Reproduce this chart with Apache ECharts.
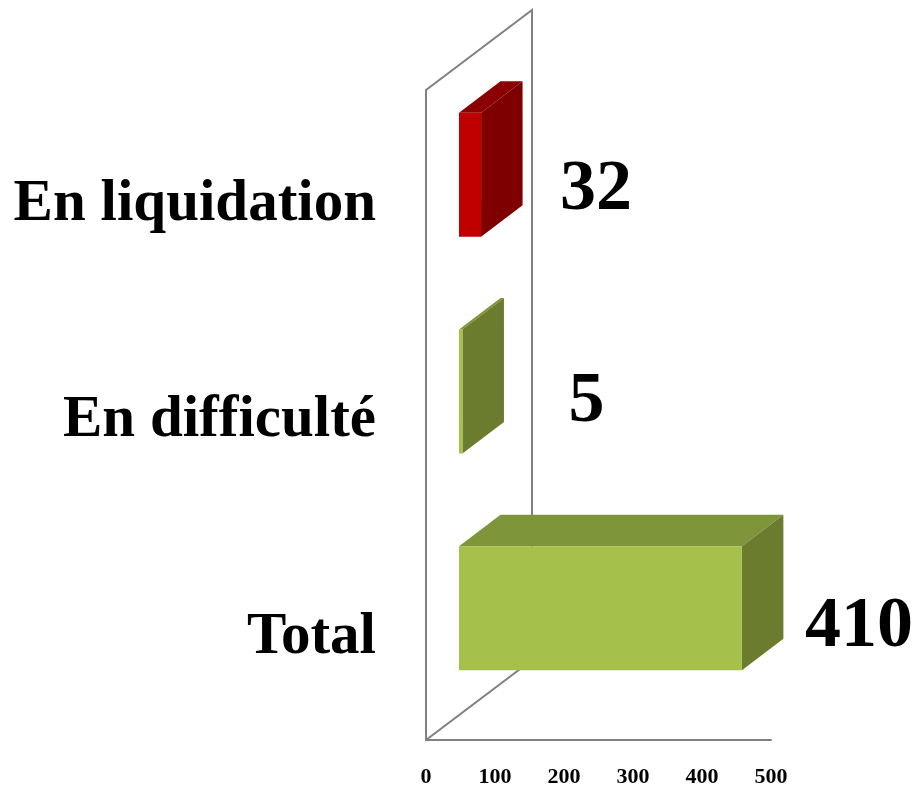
<!DOCTYPE html>
<html lang="fr">
<head>
    <meta charset="UTF-8">
    <title>Entreprises</title>
    <style>
        html, body { margin: 0; padding: 0; background: #fff; }
        #main { width: 913px; height: 787px; }
    </style>
    <script src="https://cdn.jsdelivr.net/npm/echarts@6/dist/echarts.min.js"></script>
</head>
<body>
<div id="main"></div>
<script>
    var categories = ['Total', 'En difficulté', 'En liquidation'];
    var values = [410, 5, 32];
    var xTicks = [0, 100, 200, 300, 400, 500];

    // couleurs des faces : avant, dessus, côté
    var faceColors = [
        ['#A5C14B', '#7F9539', '#6B7C2E'],
        ['#A5C14B', '#7F9539', '#6B7C2E'],
        ['#C00000', '#8B0000', '#7F0000']
    ];

    var serifBold = '"Liberation Serif", serif';
    var lineColor = '#808080';

    // perspective : décalage du mur du fond et de la barre
    var wallDx = 106, wallDy = -80;
    var barDx = 33, barDy = -23.5, barHalf = 62;
    var depthDx = 41.5, depthDy = -31.5;
    // décalage des étiquettes par rapport au bout de la barre
    var labelDx = [117, 124, 115];
    var labelDy = [19, 11, 16];

    function renderWall(params, api) {
        var c = params.coordSys;
        var x = c.x, top = c.y, bottom = c.y + c.height;
        return {
            type: 'polyline',
            silent: true,
            shape: {
                points: [
                    [x, top],
                    [x + wallDx, top + wallDy],
                    [x + wallDx, bottom + wallDy],
                    [x, bottom]
                ]
            },
            style: { fill: 'none', stroke: lineColor, lineWidth: 2 }
        };
    }

    function renderBar(params, api) {
        var i = api.value(1);
        var start = api.coord([0, i]);
        var end = api.coord([api.value(0), i]);
        var x0 = start[0] + barDx, x1 = end[0] + barDx;
        var yc = start[1] + barDy;
        var y0 = yc - barHalf, y1 = yc + barHalf;
        var col = faceColors[i];
        return {
            type: 'group',
            children: [
                {
                    type: 'polygon',
                    shape: { points: [[x0, y0], [x1, y0], [x1 + depthDx, y0 + depthDy], [x0 + depthDx, y0 + depthDy]] },
                    style: { fill: col[1] }
                },
                {
                    type: 'polygon',
                    shape: { points: [[x1, y0], [x1 + depthDx, y0 + depthDy], [x1 + depthDx, y1 + depthDy], [x1, y1]] },
                    style: { fill: col[2] }
                },
                {
                    type: 'rect',
                    shape: { x: x0, y: y0, width: x1 - x0, height: y1 - y0 },
                    style: { fill: col[0] }
                },
                {
                    type: 'text',
                    style: {
                        x: x1 + labelDx[i],
                        y: yc + labelDy[i],
                        text: String(api.value(0)),
                        align: 'center',
                        verticalAlign: 'middle',
                        fill: '#000',
                        font: 'bold 72px ' + serifBold
                    }
                }
            ]
        };
    }

    var myChart = echarts.init(document.getElementById('main'));
    myChart.setOption({
        animation: false,
        backgroundColor: '#fff',
        grid: { left: 426, top: 90, width: 345, height: 650, outerBoundsMode: 'none' },
        xAxis: {
            type: 'value',
            min: xTicks[0],
            max: xTicks[xTicks.length - 1],
            interval: xTicks[1] - xTicks[0],
            splitLine: { show: false },
            axisTick: { show: false },
            axisLine: { show: true, lineStyle: { color: lineColor, width: 2 } },
            axisLabel: { margin: 26, color: '#000', fontSize: 22, fontFamily: serifBold, fontWeight: 'bold' }
        },
        yAxis: {
            type: 'category',
            data: categories,
            axisTick: { show: false },
            axisLine: { show: true, lineStyle: { color: lineColor, width: 2 } },
            axisLabel: { margin: 50, color: '#000', fontSize: 59, fontFamily: serifBold, fontWeight: 'bold', verticalAlign: 'top', lineHeight: 12 }
        },
        series: [
            { type: 'custom', renderItem: renderWall, data: [[0, 0]], z: 1, silent: true },
            {
                type: 'custom',
                renderItem: renderBar,
                z: 2,
                clip: false,
                encode: { x: 0, y: 1 },
                data: values.map(function (v, i) { return [v, i]; })
            }
        ]
    });
</script>
</body>
</html>
